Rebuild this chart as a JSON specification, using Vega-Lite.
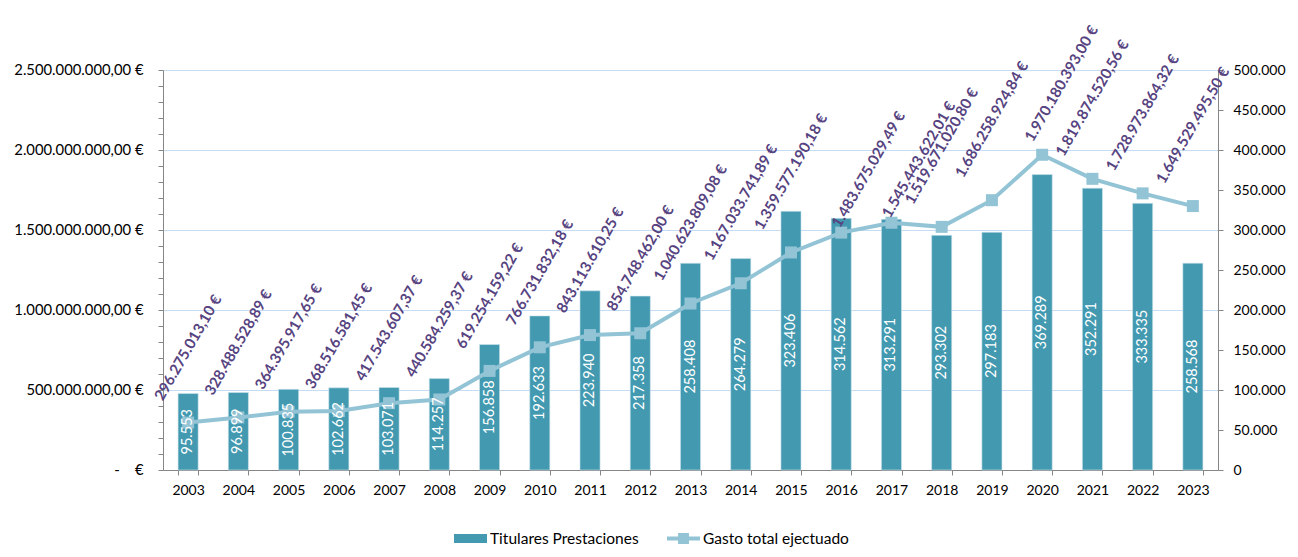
{
  "$schema": "https://vega.github.io/schema/vega-lite/v6.json",
  "width": 1055,
  "height": 400,
  "autosize": "none",
  "padding": {"left": 163, "top": 70, "right": 80, "bottom": 87},
  "background": "white",
  "config": {
    "view": {"stroke": null},
    "locale": {"number": {"decimal": ",", "thousands": ".", "grouping": [3], "currency": ["", " €"]}},
    "axis": {"labelFont": "Lato", "labelFontSize": 14, "labelColor": "#000000", "domainColor": "#868686", "tickColor": "#868686", "tickSize": 5, "title": null}
  },
  "data": {"values": [
    {"year": "2003", "titulares": 95553, "gasto": 296275013.10},
    {"year": "2004", "titulares": 96899, "gasto": 328488528.89},
    {"year": "2005", "titulares": 100835, "gasto": 364395917.65},
    {"year": "2006", "titulares": 102662, "gasto": 368516581.45},
    {"year": "2007", "titulares": 103071, "gasto": 417543607.37},
    {"year": "2008", "titulares": 114257, "gasto": 440584259.37},
    {"year": "2009", "titulares": 156858, "gasto": 619254159.22},
    {"year": "2010", "titulares": 192633, "gasto": 766731832.18},
    {"year": "2011", "titulares": 223940, "gasto": 843113610.25},
    {"year": "2012", "titulares": 217358, "gasto": 854748462.00},
    {"year": "2013", "titulares": 258408, "gasto": 1040623809.08},
    {"year": "2014", "titulares": 264279, "gasto": 1167033741.89},
    {"year": "2015", "titulares": 323406, "gasto": 1359577190.18},
    {"year": "2016", "titulares": 314562, "gasto": 1483675029.49},
    {"year": "2017", "titulares": 313291, "gasto": 1545443622.01},
    {"year": "2018", "titulares": 293302, "gasto": 1519671020.80},
    {"year": "2019", "titulares": 297183, "gasto": 1686258924.84},
    {"year": "2020", "titulares": 369289, "gasto": 1970180393.00},
    {"year": "2021", "titulares": 352291, "gasto": 1819874520.56},
    {"year": "2022", "titulares": 333335, "gasto": 1728973864.32},
    {"year": "2023", "titulares": 258568, "gasto": 1649529495.50}
  ]},
  "encoding": {
    "x": {"field": "year", "type": "ordinal", "sort": null,
      "scale": {"paddingInner": 0.6, "paddingOuter": 0.3},
      "axis": {"labelAngle": 0, "tickBand": "extent", "labelPadding": 8, "grid": false}}
  },
  "layer": [
    {
      "mark": {"type": "bar", "stroke": "#cfe4ec", "strokeWidth": 0.6},
      "encoding": {
        "y": {"field": "titulares", "type": "quantitative", "scale": {"domain": [0, 500000], "nice": false},
          "axis": {"orient": "right", "values": [0, 50000, 100000, 150000, 200000, 250000, 300000, 350000, 400000, 450000, 500000], "format": ",d", "grid": false, "labelPadding": 10}},
        "color": {"datum": "Titulares Prestaciones", "type": "nominal",
          "scale": {"domain": ["Titulares Prestaciones", "Gasto total ejectuado"], "range": ["#4299b0", "#93c4d6"]},
          "legend": {"title": null, "orient": "none", "direction": "horizontal", "legendX": 291, "legendY": 452, "padding": 0,
            "labelFont": "Lato", "labelFontSize": 15.5, "labelColor": "#000000", "labelOffset": 3, "columnPadding": 28, "symbolSize": 1089,
            "symbolStrokeWidth": 0, "symbolOpacity": 1,
            "symbolType": {"expr": "datum.value === 'Titulares Prestaciones' ? 'M-1,-0.27H1V0.27H-1Z' : 'M-1,-0.12H1V0.12H-1Z M-0.33,-0.33H0.33V0.33H-0.33Z'"}}}
      }
    },
    {
      "mark": {"type": "line", "strokeWidth": 4},
      "encoding": {
        "y": {"field": "gasto", "type": "quantitative", "scale": {"domain": [0, 2500000000], "nice": false},
          "axis": {"orient": "left", "labelPadding": 15, "labelFontSize": 14.8,
            "values": [0, 100000000, 200000000, 300000000, 400000000, 500000000, 600000000, 700000000, 800000000, 900000000, 1000000000, 1100000000, 1200000000, 1300000000, 1400000000, 1500000000, 1600000000, 1700000000, 1800000000, 1900000000, 2000000000, 2100000000, 2200000000, 2300000000, 2400000000, 2500000000],
            "labelExpr": "datum.value % 500000000 === 0 ? (datum.value === 0 ? '-\u00a0\u00a0\u00a0\u00a0€' : format(datum.value, '$,.2f')) : ''",
            "grid": true,
            "gridColor": {"condition": {"test": "datum.value % 500000000 === 0", "value": "#c6dcf4"}, "value": "transparent"}}},
        "color": {"datum": "Gasto total ejectuado", "type": "nominal", "legend": null}
      }
    },
    {
      "mark": {"type": "point", "shape": "square", "filled": true, "size": 144, "opacity": 1},
      "encoding": {
        "y": {"field": "gasto", "type": "quantitative", "scale": {"domain": [0, 2500000000], "nice": false}, "axis": null},
        "color": {"datum": "Gasto total ejectuado", "type": "nominal", "legend": null}
      }
    },
    {
      "mark": {"type": "text", "angle": 270, "align": "center", "baseline": "middle", "font": "Lato", "fontSize": 14.5, "color": "#ffffff"},
      "encoding": {
        "y": {"field": "titulares", "type": "quantitative", "scale": {"domain": [0, 1000000], "nice": false}, "axis": null},
        "text": {"field": "titulares", "type": "quantitative", "format": ",d"}
      }
    },
    {
      "transform": [{"filter": "datum.gasto < 1000000000"}],
      "mark": {"type": "text", "angle": 300, "align": "center", "baseline": "middle", "font": "Lato", "fontSize": 15, "fontWeight": "bold", "color": "#56437f", "dx": 65, "dy": -37.5},
      "encoding": {
        "y": {"field": "gasto", "type": "quantitative", "scale": {"domain": [0, 2500000000], "nice": false}, "axis": null},
        "text": {"field": "gasto", "type": "quantitative", "format": "$,.2f"}
      }
    },
    {
      "transform": [{"filter": "datum.gasto >= 1000000000 && datum.year !== '2016' && datum.year !== '2017' && datum.year !== '2020'"}],
      "mark": {"type": "text", "angle": 300, "align": "center", "baseline": "middle", "font": "Lato", "fontSize": 15, "fontWeight": "bold", "color": "#56437f", "dx": 70, "dy": -40.5},
      "encoding": {
        "y": {"field": "gasto", "type": "quantitative", "scale": {"domain": [0, 2500000000], "nice": false}, "axis": null},
        "text": {"field": "gasto", "type": "quantitative", "format": "$,.2f"}
      }
    },
    {
      "transform": [{"filter": "datum.year === '2016' || datum.year === '2017'"}],
      "mark": {"type": "text", "angle": 300, "align": "left", "baseline": "middle", "font": "Lato", "fontSize": 15, "fontWeight": "bold", "color": "#56437f", "dx": 3, "dy": -8},
      "encoding": {
        "y": {"field": "gasto", "type": "quantitative", "scale": {"domain": [0, 2500000000], "nice": false}, "axis": null},
        "text": {"field": "gasto", "type": "quantitative", "format": "$,.2f"}
      }
    },
    {
      "transform": [{"filter": "datum.year === '2020'"}],
      "mark": {"type": "text", "angle": 300, "align": "left", "baseline": "middle", "font": "Lato", "fontSize": 15, "fontWeight": "bold", "color": "#56437f", "dx": 6, "dy": -19},
      "encoding": {
        "y": {"field": "gasto", "type": "quantitative", "scale": {"domain": [0, 2500000000], "nice": false}, "axis": null},
        "text": {"field": "gasto", "type": "quantitative", "format": "$,.2f"}
      }
    }
  ],
  "resolve": {"scale": {"y": "independent"}}
}
